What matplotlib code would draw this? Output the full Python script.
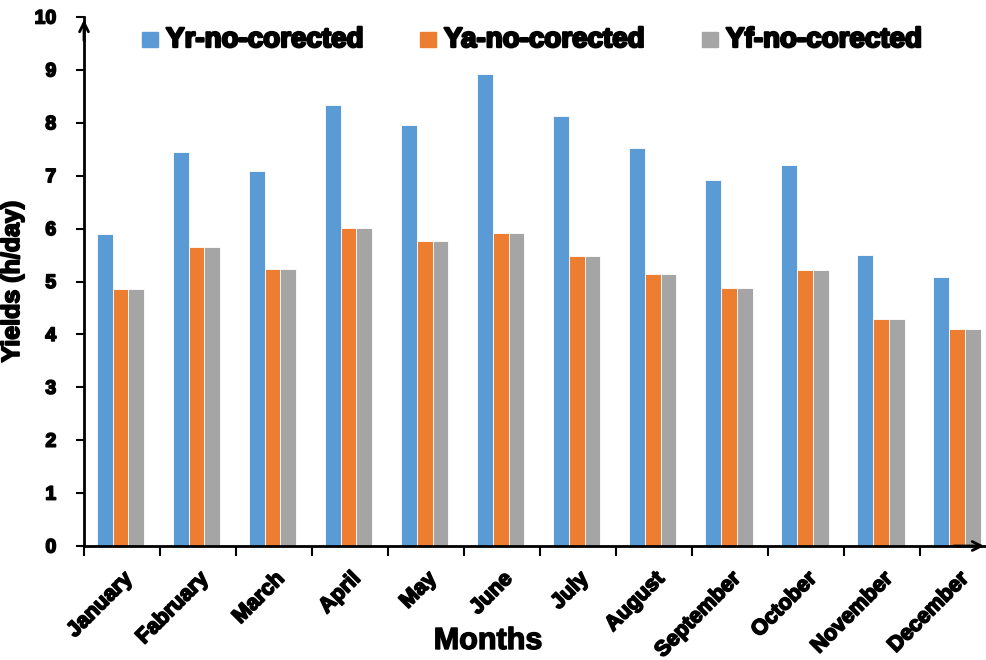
import numpy as np
import matplotlib.pyplot as plt
import matplotlib.patheffects as pe
from matplotlib.patches import Rectangle

plt.rcParams['font.family'] = ['Liberation Sans', 'DejaVu Sans']

months = ['January', 'Fabruary', 'March', 'April', 'May', 'June', 'July',
          'August', 'September', 'October', 'November', 'December']
yr = [5.90, 7.44, 7.09, 8.33, 7.95, 8.92, 8.13, 7.52, 6.91, 7.20, 5.51, 5.09]
ya = [4.86, 5.65, 5.24, 6.02, 5.77, 5.92, 5.49, 5.14, 4.88, 5.21, 4.30, 4.10]
yf = [4.86, 5.65, 5.24, 6.02, 5.77, 5.92, 5.49, 5.14, 4.88, 5.21, 4.30, 4.10]
labels = ['Yr-no-corected', 'Ya-no-corected', 'Yf-no-corected']
colors = ['#5B9BD5', '#ED7D31', '#A5A5A5']

def heavy(lw=1.0):
    return [pe.withStroke(linewidth=lw, foreground='black')]

W, H = 987, 660
fig = plt.figure(figsize=(W/100, H/100), dpi=100)
ax = fig.add_axes([84/W, 1-546/H, 903/W, (546-17)/H])

x = np.arange(len(months))
w = 0.21
for k, (vals, lab, c) in enumerate(zip([yr, ya, yf], labels, colors)):
    ax.bar(x + (k-1)*w - 0.02, vals, w, color=c, label=lab,
           edgecolor='white', linewidth=0.6, zorder=2)

ax.set_xlim(-0.5, 11.38)
ax.set_ylim(0, 10)
ax.set_yticks(range(0, 11))
ax.set_xticks(np.arange(-0.5, 11.5, 1))
ax.set_xticklabels([])
ax.set_xticks(x, minor=True)
ax.set_xticklabels(months, minor=True, rotation=45, ha='right',
                   rotation_mode='anchor', fontsize=15.5, fontweight='bold',
                   path_effects=heavy(1.2))
ax.tick_params(axis='x', which='minor', length=0, pad=16)
ax.tick_params(axis='x', which='major', length=7, width=1.5, direction='out')
ax.tick_params(axis='y', length=6, width=1.5, direction='out', pad=14)
for t in ax.get_yticklabels():
    t.set_fontsize(14)
    t.set_fontweight('bold')
    t.set_path_effects(heavy(1.2))

for s in ['top', 'right']:
    ax.spines[s].set_visible(False)
ax.spines['left'].set_linewidth(2)
ax.spines['bottom'].set_linewidth(2)

# arrow heads on both axes
ax.annotate('', xy=(0, 1.0), xycoords='axes fraction', xytext=(0, 0.95),
            arrowprops=dict(arrowstyle='->', lw=2, color='black',
                            mutation_scale=16), annotation_clip=False)
ax.annotate('', xy=(1.0, 0), xycoords='axes fraction', xytext=(0.96, 0),
            arrowprops=dict(arrowstyle='->', lw=2, color='black',
                            mutation_scale=16), annotation_clip=False)

ax.set_ylabel('Yields (h/day)', fontsize=18, fontweight='bold',
              path_effects=heavy(1.3))
ax.yaxis.set_label_coords((24-84)/903, 0.5)
fig.text(488/W, 4/H, 'Months', ha='center', va='bottom', fontsize=22,
         fontweight='bold', path_effects=heavy(1.0))

# legend row across the top
sq_x = [142, 420, 702]
for sx, lab, c in zip(sq_x, labels, colors):
    fig.add_artist(Rectangle((sx/W, 1-47/H), 16/W, 15/H, color=c,
                             transform=fig.transFigure))
    fig.text((sx+24)/W, 1-40/H, lab, ha='left', va='center', fontsize=20,
             fontweight='bold', path_effects=heavy(1.7))

fig.savefig('out.png', dpi=100)
